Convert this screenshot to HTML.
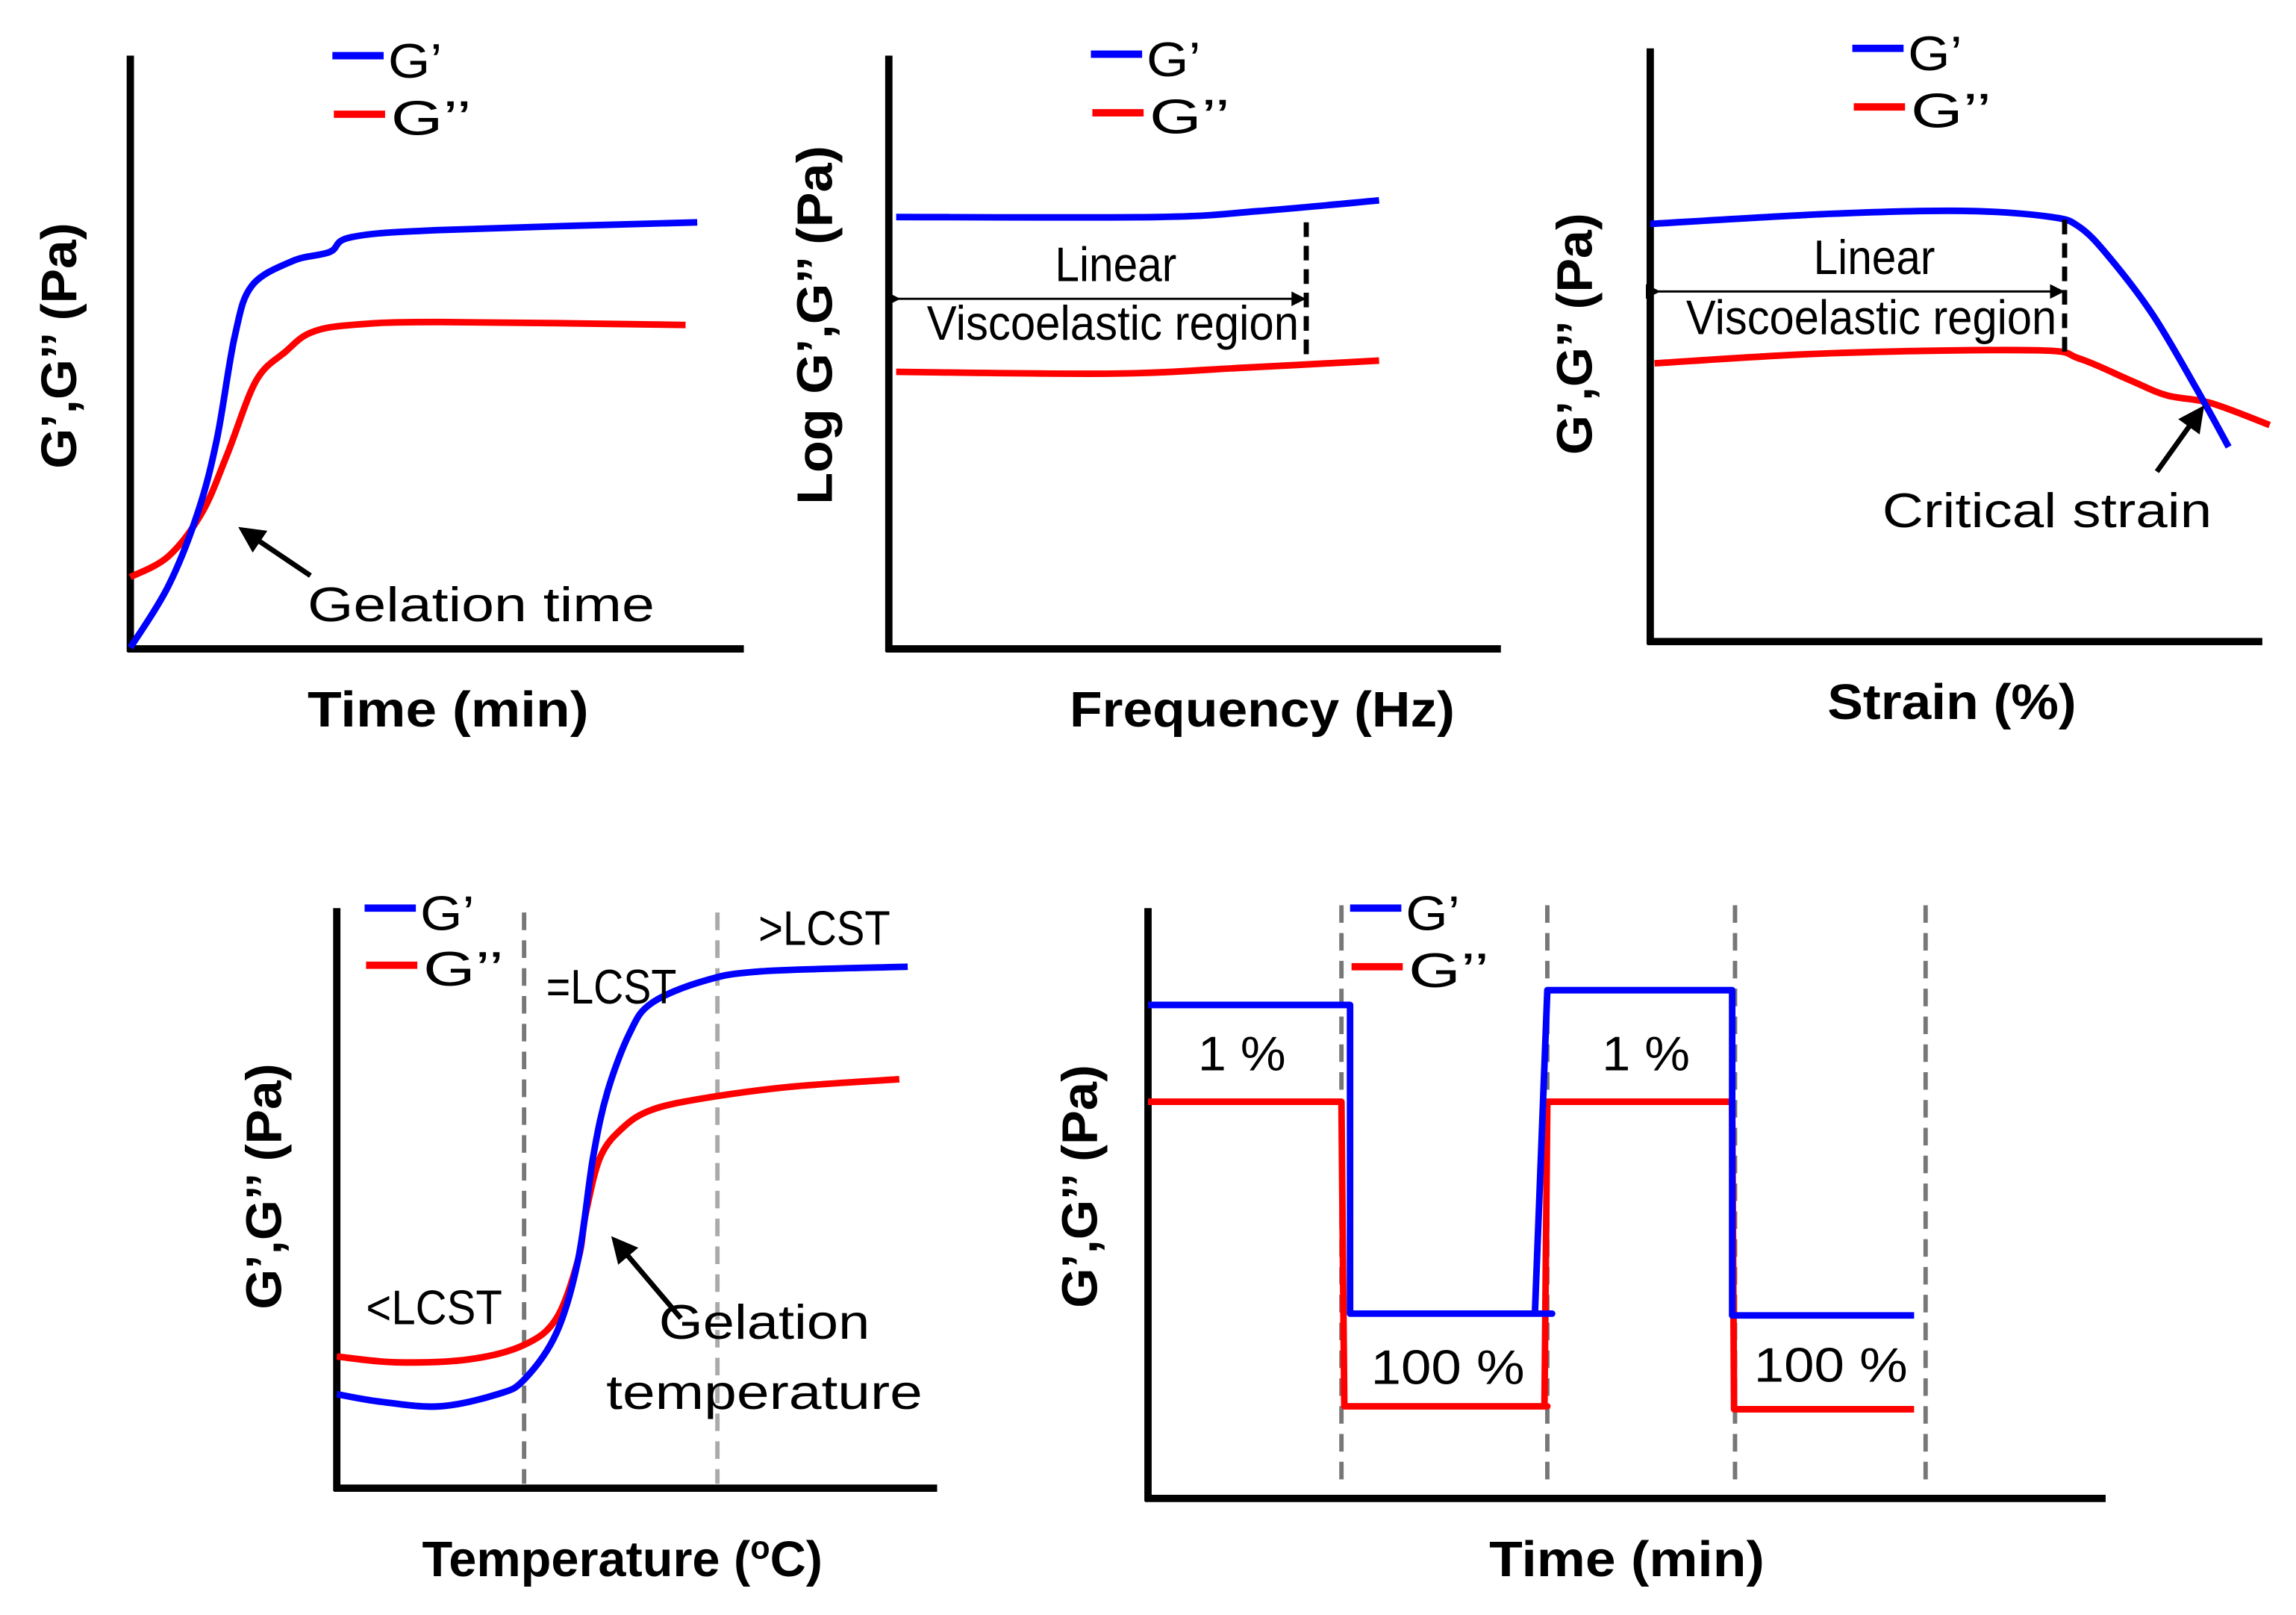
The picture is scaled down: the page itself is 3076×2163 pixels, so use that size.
<!DOCTYPE html>
<html><head><meta charset="utf-8">
<style>
html,body{margin:0;padding:0;background:#fff;}
svg{display:block;}
.ax{font-family:"Liberation Sans",sans-serif;font-weight:bold;font-size:34px;fill:#000;}
.an{font-family:"Liberation Sans Narrow","Liberation Sans",sans-serif;font-size:33px;fill:#000;}
</style></head>
<body>
<svg id="fig" width="3076" height="2163" viewBox="0 0 1568 1102.6" xmlns="http://www.w3.org/2000/svg">
<defs>
<marker id="ah" markerWidth="10" markerHeight="10" refX="8" refY="5" orient="auto" markerUnits="userSpaceOnUse"><path d="M0,0 L10,5 L0,10 z" fill="#000"/></marker>
<marker id="ahb" markerWidth="18" markerHeight="18" refX="14" refY="9" orient="auto" markerUnits="userSpaceOnUse"><path d="M0,0 L18,9 L0,18 z" fill="#000"/></marker>
</defs>
</svg>
<script>
// ---- Panel data (normalized 0-100 units on each axis) ----
const p1GpX=[0,6.2,11,14.1,17,19.8,26.5,32.5,36,50.4,92.4];
const p1GpY=[0.2,10.6,23,35.3,52.6,61.2,65.4,66.9,69.4,70.6,71.9];
const p1GppX=[0,6.2,11.7,15.8,20.5,25.3,29.4,36,50.4,90.5];
const p1GppY=[12.1,15.6,23,32.8,45.2,50.1,53.3,54.6,55.1,54.6];
const p2GpX=[1.2,43.8,60.5,80.1];
const p2GpY=[72.8,72.8,73.8,75.6];
const p2GppX=[1.2,36.6,58.1,80.1];
const p2GppY=[46.7,46.4,47.4,48.6];
const p3GpX=[0,29.4,51,65.3,70.1,74.9,82.1,89.2,94.5];
const p3GpY=[70.4,72.1,72.6,71.6,69.9,64.9,55.1,42.7,32.8];
const p3GppX=[0.7,29.4,62.9,70.1,78.5,84.4,91.6,101.2];
const p3GppY=[46.9,48.6,49.1,47.7,44,41.5,40.2,36.5];
const p4GpX=[0,7.3,17.1,26.8,31.2,36.6,40.2,42.7,45.1,48.8,52.4,61,70.7,95.1];
const p4GpY=[16.2,14.9,14.1,16.2,18.7,26.8,39.4,57.1,68.4,78.5,83.6,87.4,89.1,89.9];
const p4GppX=[0,9.8,22,31.2,36.6,40.2,41.5,43.9,47.6,52.4,61,75.6,93.7];
const p4GppY=[22.7,21.7,22.2,24.7,29.3,39.4,47.5,57.1,62.1,65.2,67.2,69.2,70.5];
const p4Lines=[31.2,63.4];
const p5GpX=[0,21.1,21.1,42.2,40.4,41.7,61.0,61.0,80.0];
const p5GpY=[83.6,83.6,31.3,31.3,31.3,86.1,86.1,31.0,31.0];
const p5GppX=[0,20.2,20.5,41.7,41.4,41.7,61.0,61.2,80.0];
const p5GppY=[67.2,67.2,15.6,15.6,15.6,67.2,67.2,15.1,15.1];
const p5Lines=[20.2,41.7,61.3,81.2];
const p5Labels=["1 %","100 %","1 %","100 %"];
const p5LabelX=[9.8,31.3,52,71.3];
const p5LabelY=[72.5,19.4,72.5,19.8];

const NS="http://www.w3.org/2000/svg";
const svg=document.getElementById('fig');
function mk(tag,attrs){const e=document.createElementNS(NS,tag);for(const k in attrs)e.setAttribute(k,attrs[k]);svg.appendChild(e);return e;}
function axes(x0,x1,y0,y1){return {x:v=>x0+(x1-x0)*v/100,y:v=>y0-(y0-y1)*v/100};}
function smooth(pts){let d="M"+pts[0][0]+","+pts[0][1];for(let i=0;i<pts.length-1;i++){const p0=pts[i-1]||pts[i],p1=pts[i],p2=pts[i+1],p3=pts[i+2]||p2;const c1=[p1[0]+(p2[0]-p0[0])/6,p1[1]+(p2[1]-p0[1])/6],c2=[p2[0]-(p3[0]-p1[0])/6,p2[1]-(p3[1]-p1[1])/6];d+=" C"+c1+" "+c2+" "+p2;}return d;}
function pts(ax,xs,ys){return xs.map((v,i)=>[ax.x(v),ax.y(ys[i])]);}
function curve(ax,xs,ys,col,sm){const p=pts(ax,xs,ys);return mk('path',{d:sm?smooth(p):"M"+p.map(q=>q.join(",")).join(" L"),fill:"none",stroke:col,'stroke-width':4.5,'stroke-linejoin':'round'});}
function axisLines(x0,x1,y0,y1){const g=[];g.push(mk('line',{x1:x0,y1:y1,x2:x0,y2:y0+2,stroke:'#000','stroke-width':5}));g.push(mk('line',{x1:x0-2,y1:y0,x2:x1,y2:y0,stroke:'#000','stroke-width':5}));return g;}
function text(x,y,s,cls,len,anchor){const t=mk('text',{x:x,y:y,class:cls});if(len){t.setAttribute('textLength',len);t.setAttribute('lengthAdjust','spacingAndGlyphs');}if(anchor)t.setAttribute('text-anchor',anchor);t.textContent=s;return t;}
function ylab(x,yc,s,len){const t=text(0,0,s,'ax',len,'middle');t.setAttribute('transform','translate('+x+','+yc+') rotate(-90)');return t;}
function legend(x,y1,y2){const a=mk('line',{x1:x,y1:y1,x2:x+35,y2:y1,stroke:'#0000ff','stroke-width':5});const b=mk('line',{x1:x+1,y1:y2,x2:x+36,y2:y2,stroke:'#ff0000','stroke-width':5});const t1=text(x+38,y1+15,"G\u2019",'an',37);const t2=text(x+40,y2+14,"G\u2019\u2019",'an',55);return [a,b,t1,t2];}
let e,arr;

// ---- Panel 1: gelation time ----
const A1=axes(89,508,443,38);
arr=axisLines(89,508,443,38);
arr.forEach(el=>{


});
e=curve(A1,p1GppX,p1GppY,'#ff0000',true);


e=curve(A1,p1GpX,p1GpY,'#0000ff',true);


arr=legend(227,38,78);
arr.forEach(el=>{


});
e=ylab(52,236,"G\u2019,G\u2019\u2019 (Pa)",168);


e=text(306,496,"Time (min)",'ax',192,'middle');


e=mk('line',{x1:212,y1:393,x2:166,y2:362,stroke:'#000','stroke-width':3.5,'marker-end':'url(#ahb)'});


e=text(210,424,"Gelation time",'an',237);



// ---- Panel 2: frequency sweep ----
const A2=axes(607,1025,443,38);
arr=axisLines(607,1025,443,38);
arr.forEach(el=>{


});
e=curve(A2,p2GpX,p2GpY,'#0000ff',true);


e=curve(A2,p2GppX,p2GppY,'#ff0000',true);


e=mk('line',{x1:A2.x(68.2),y1:A2.y(71.9),x2:A2.x(68.2),y2:A2.y(48.9),stroke:'#000','stroke-width':3.5,'stroke-dasharray':'10,6'});


e=mk('line',{x1:613,y1:204,x2:890,y2:204,stroke:'#000','stroke-width':1.5,'marker-end':'url(#ah)','marker-start':'url(#ah)'});


e=text(762,192,"Linear",'an',83,'middle');


e=text(760,232,"Viscoelastic region",'an',254,'middle');


arr=legend(745,37,77);
arr.forEach(el=>{


});
e=ylab(568,222,"Log G\u2019,G\u2019\u2019 (Pa)",245);


e=text(862,496,"Frequency (Hz)",'ax',263,'middle');



// ---- Panel 3: strain sweep ----
const A3=axes(1127,1545,438,33);
arr=axisLines(1127,1545,438,33);
arr.forEach(el=>{


});
e=curve(A3,p3GppX,p3GppY,'#ff0000',true);


e=curve(A3,p3GpX,p3GpY,'#0000ff',true);


e=mk('line',{x1:A3.x(67.7),y1:150,x2:A3.x(67.7),y2:240,stroke:'#000','stroke-width':3.5,'stroke-dasharray':'10,6'});


e=mk('line',{x1:1132,y1:199,x2:1408,y2:199,stroke:'#000','stroke-width':1.5,'marker-end':'url(#ah)','marker-start':'url(#ah)'});


e=text(1280,187,"Linear",'an',83,'middle');


e=text(1278,228,"Viscoelastic region",'an',253,'middle');


e=mk('line',{x1:1473,y1:322,x2:1503,y2:280,stroke:'#000','stroke-width':3.5,'marker-end':'url(#ahb)'});


e=text(1398,360,"Critical strain",'an',225,'middle');


arr=legend(1265,33,73);
arr.forEach(el=>{


});
e=ylab(1087,228,"G\u2019,G\u2019\u2019 (Pa)",165);


e=text(1333,491,"Strain (%)",'ax',170,'middle');



// ---- Panel 4: temperature sweep ----
const A4=axes(230,640,1016,620);
p4Lines.forEach((v,i)=>{
const l=mk('line',{x1:A4.x(v),y1:623,x2:A4.x(v),y2:1013,stroke:i?'#aaaaaa':'#777777','stroke-width':3,'stroke-dasharray':'12,7'});


});
arr=axisLines(230,640,1016,620);
arr.forEach(el=>{


});
e=curve(A4,p4GppX,p4GppY,'#ff0000',true);


e=curve(A4,p4GpX,p4GpY,'#0000ff',true);


arr=legend(249,620,659);
arr.forEach(el=>{


});
e=text(250,904,"<LCST",'an',93);


e=text(373,685,"=LCST",'an',89);


e=text(518,645,">LCST",'an',90);


e=mk('line',{x1:465,y1:900,x2:420,y2:847,stroke:'#000','stroke-width':3.5,'marker-end':'url(#ahb)'});


e=text(522,914,"Gelation",'an',144,'middle');


e=text(522,962,"temperature",'an',216,'middle');


e=ylab(192,810,"G\u2019,G\u2019\u2019 (Pa)",168);


e=mk('text',{x:425,y:1076,class:'ax','text-anchor':'middle'});
e.innerHTML='Temperature (<tspan font-size="22" dy="-12">o</tspan><tspan dy="12">C)</tspan>';



// ---- Panel 5: step strain ----
const A5=axes(784,1438,1023,620);
p5Lines.forEach(v=>{
const l=mk('line',{x1:A5.x(v),y1:618,x2:A5.x(v),y2:1015,stroke:'#777777','stroke-width':3,'stroke-dasharray':'12,7'});


});
arr=axisLines(784,1438,1023,620);
arr.forEach(el=>{


});
e=curve(A5,p5GppX,p5GppY,'#ff0000',false);


e=curve(A5,p5GpX,p5GpY,'#0000ff',false);


arr=legend(922,620,660);
arr.forEach(el=>{


});
p5Labels.forEach((s,i)=>{
const t=text(A5.x(p5LabelX[i]),A5.y(p5LabelY[i]),s,'an',s.length>3?105:60,'middle');


});
e=ylab(749,810,"G\u2019,G\u2019\u2019 (Pa)",166);


e=text(1111,1076,"Time (min)",'ax',188,'middle');


</script>
</body></html>
